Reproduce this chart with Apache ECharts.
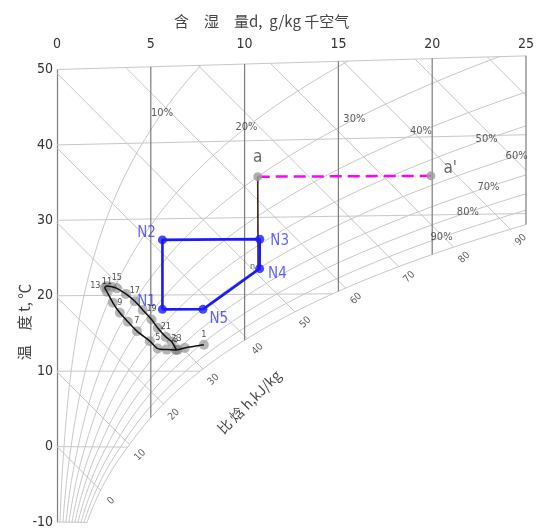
<!DOCTYPE html>
<html>
<head>
<meta charset="utf-8">
<script src="https://cdn.jsdelivr.net/npm/echarts@6/dist/echarts.min.js"></script>
<style>
html,body{margin:0;padding:0;background:#fff;}
#chart{width:537px;height:529px;}
</style>
</head>
<body>
<div id="chart"></div>
<script>
// Psychrometric h–d chart (barometric pressure 101.325 kPa)

// axis ticks
const dTicks = [0, 5, 10, 15, 20, 25];          // moisture content, g/kg dry air
const tTicks = [-10, 0, 10, 20, 30, 40, 50];    // dry-bulb temperature, °C

// relative-humidity curves and where their % labels sit (moisture content)
const rhLevels = [10, 20, 30, 40, 50, 60, 70, 80, 90, 100];
const rhLabelD = [5.6, 10.1, 15.85, 19.4, 22.9, 24.5, 23.0, 21.9, 20.5];

// specific enthalpy lines, kJ/kg
const hLevels = [0, 10, 20, 30, 40, 50, 60, 70, 80, 90, 100, 110];
const hLabelLevels = [0, 10, 20, 30, 40, 50, 60, 70, 80, 90];

// outdoor state a and humidified state a'
const outNames = ['a', "a'"];
const outD = [10.7, 19.93];
const outT = [35.3, 35.0];

// cooling line end n
const nD = 10.72;
const nT = 23.3;

// process states N1..N5
const procNames = ['N1', 'N2', 'N3', 'N4', 'N5'];
const procD = [5.62, 5.62, 10.81, 10.80, 7.78];
const procT = [18.12, 27.23, 27.17, 23.34, 18.09];

// hourly record, hours 1..24
const hourLabels = ['1','2','3','4','5','6','7','8','9','10','11','12','13','14','15','16','17','18','19','20','21','22','23','24'];
const hourD = [7.83, 6.81, 6.33, 5.85, 5.37, 4.95, 4.26, 3.78, 3.35, 2.98, 2.66, 2.55, 2.64, 2.93, 3.19, 3.67, 4.15, 4.57, 5.04, 5.37, 5.80, 6.12, 6.37, 6.44];
const hourT = [13.45, 13.05, 12.79, 12.83, 12.97, 13.95, 15.27, 16.50, 17.69, 19.02, 20.48, 21.01, 21.23, 21.13, 20.92, 20.18, 19.21, 18.06, 16.78, 15.68, 14.50, 13.85, 12.83, 12.80];

// ---- psychrometrics ----
const B = 101.325;      // kPa
const SKEW = 2.52;      // enthalpy axis skew (kJ/kg per g/kg)
const D_MAX = 25, T_MAX = 50, T_MIN = -10;

function pws(t) {
  return t >= 0 ? 0.61078 * Math.exp(17.27 * t / (t + 237.3))
                : 0.61078 * Math.exp(21.875 * t / (t + 265.5));
}
function dOf(t, phi) { const p = phi * pws(t); return 622 * p / (B - p); }
function hOf(d, t) { return 1.01 * t + d * (2.501 + 0.00184 * t); }
// vertical chart coordinate: equals t on the d = 0 axis
function yOf(d, t) { return t + d * (2.501 + 0.00184 * t - SKEW) / 1.01; }
function P(d, t) { return [d, yOf(d, t)]; }
function solve(f, lo, hi) {
  for (let i = 0; i < 60; i++) { const m = (lo + hi) / 2; if (f(m) > 0) hi = m; else lo = m; }
  return (lo + hi) / 2;
}

const LIGHT = '#c8c8c8';
const DARK = '#7c7c7c';
const NARROW = "'Liberation Sans Narrow','DejaVu Sans Condensed','Arial Narrow',sans-serif";
const CJK = "'Noto Sans CJK SC','Noto Sans CJK JP',sans-serif";

const series = [];
function addLine(data, color, width, extra) {
  series.push(Object.assign({
    type: 'line', data: data, symbol: 'none', showSymbol: false, clip: false,
    silent: true, animation: false, z: 1,
    lineStyle: { color: color, width: width }
  }, extra || {}));
}

// isotherms (bounded by saturation curve / right edge)
tTicks.forEach(function (t) {
  addLine([P(0, t), P(Math.min(dOf(t, 1), D_MAX), t)], LIGHT, 1);
});

// relative-humidity curves
rhLevels.forEach(function (rh) {
  const phi = rh / 100, pts = [];
  for (let t = T_MIN; t <= T_MAX + 1e-9; t += 0.5) {
    const d = dOf(t, phi);
    if (d > D_MAX) {
      const te = solve(function (x) { return dOf(x, phi) - D_MAX; }, t - 0.5, t);
      pts.push(P(D_MAX, te));
      break;
    }
    pts.push(P(d, t));
  }
  addLine(pts, LIGHT, 1);
});

// enthalpy lines
const hEnds = {};
hLevels.forEach(function (h) {
  let start;
  if (h / 1.01 <= T_MAX) start = P(0, h / 1.01);
  else start = P((h - 1.01 * T_MAX) / (2.501 + 0.00184 * T_MAX), T_MAX);
  const ts = solve(function (t) { return hOf(dOf(t, 1), t) - h; }, -30, 60);
  const ds = dOf(ts, 1);
  let end;
  if (ds <= D_MAX) end = P(ds, ts);
  else end = P(D_MAX, (h - D_MAX * 2.501) / (1.01 + D_MAX * 0.00184));
  hEnds[h] = end;
  addLine([start, end], LIGHT, 1);
});

// constant moisture-content lines (from dew point up to 50 °C)
dTicks.slice(1).forEach(function (d) {
  const td = solve(function (t) { return dOf(t, 1) - d; }, -40, 60);
  addLine([P(d, td), P(d, T_MAX)], DARK, 1.2);
});

// RH % labels
series.push({
  type: 'scatter', silent: true, animation: false, symbolSize: 0, z: 3,
  data: rhLabelD.map(function (d, i) {
    const phi = rhLevels[i] / 100;
    const t = solve(function (x) { return dOf(x, phi) - d; }, -20, 60);
    return { value: P(d, t), name: rhLevels[i] + '%' };
  }),
  label: { show: true, position: 'inside', formatter: '{b}', color: '#333',
           fontSize: 11, fontFamily: NARROW }
});

// enthalpy numbers beyond the saturation curve
series.push({
  type: 'scatter', silent: true, animation: false, symbolSize: 0, z: 3,
  data: hLabelLevels.map(function (h) { return { value: hEnds[h], name: String(h) }; }),
  label: { show: true, position: 'inside', offset: [0, 15], rotate: 45,
           formatter: '{b}', color: '#333', fontSize: 10, fontFamily: NARROW }
});

// a -> a' humidification (dashed magenta)
addLine([P(outD[0], outT[0]), P(outD[1], outT[1])], '#ff00ff', 2.5,
  { z: 6, lineStyle: { color: '#ff00ff', width: 2.5, type: [12, 6] } });

// a -> n cooling line
addLine([P(outD[0], outT[0]), P(nD, nT)], '#43201c', 1.6, { z: 5 });
series.push({
  type: 'scatter', silent: true, animation: false, symbolSize: 0, z: 7,
  data: [{ value: P(nD, nT), name: 'n' }],
  label: { show: true, position: 'left', distance: 3, formatter: '{b}', color: '#333',
           fontSize: 9, fontFamily: NARROW, offset: [0, -2] }
});

// a and a' points
series.push({
  type: 'scatter', silent: true, animation: false, symbolSize: 9, z: 8,
  itemStyle: { color: '#9c9c9c' },
  data: outNames.map(function (n, i) {
    return {
      value: P(outD[i], outT[i]), name: n,
      label: i === 0 ? { position: 'top', distance: 6 } : { position: 'right', distance: 8, offset: [0, -7] }
    };
  }),
  label: { show: true, formatter: '{b}', color: '#444', fontSize: 17, fontFamily: NARROW }
});

// process loop N1 -> N2 -> N3 -> N4 -> N5 -> N1
const loopIdx = [0, 1, 2, 3, 4, 0];
addLine(loopIdx.map(function (i) { return P(procD[i], procT[i]); }), '#1a1aff', 2.6, { z: 9 });
const procLabelPos = [
  { position: 'left', distance: 2, offset: [0, -7] },
  { position: 'left', distance: 2, offset: [0, -7] },
  { position: 'right', distance: 6, offset: [0, 2] },
  { position: 'right', distance: 4, offset: [0, 5] },
  { position: 'right', distance: 2, offset: [0, 10] }
];
series.push({
  type: 'scatter', silent: true, animation: false, symbolSize: 9, z: 10,
  itemStyle: { color: '#1a1aff' },
  data: procNames.map(function (n, i) {
    return { value: P(procD[i], procT[i]), name: n, label: procLabelPos[i] };
  }),
  label: { show: true, formatter: '{b}', color: '#3b3bff', fontSize: 15, fontFamily: NARROW }
});

// hourly record
series.push({
  type: 'scatter', silent: true, animation: false, symbolSize: 10, z: 11,
  itemStyle: { color: 'rgba(135,135,135,0.75)' },
  data: hourLabels.map(function (n, i) {
    const odd = (i % 2) === 0;
    return {
      value: P(hourD[i], hourT[i]), name: n,
      label: { show: odd, position: n === '13' ? 'left' : 'top', distance: 1 }
    };
  }),
  label: { formatter: '{b}', color: '#222', fontSize: 9, fontFamily: NARROW }
});
addLine(hourD.map(function (d, i) { return P(d, hourT[i]); }), '#111', 1.5, { z: 12, smooth: 0.25 });

const chart = echarts.init(document.getElementById('chart'), null, { renderer: 'canvas' });
chart.setOption({
  animation: false,
  backgroundColor: '#fff',
  title: {
    text: '含\u3000湿\u3000量d,  g/kg 千空气',
    left: 169, top: 9,
    textStyle: { fontSize: 15, fontWeight: 'normal', color: '#444', fontFamily: CJK }
  },
  grid: { left: 57, right: 10, top: 69.5, bottom: 7 },
  xAxis: {
    type: 'value', position: 'top', min: 0, max: 25, interval: 5,
    axisLine: { show: false }, axisTick: { show: false }, splitLine: { show: false },
    axisLabel: { margin: 18, fontSize: 14, color: '#333', fontFamily: NARROW }
  },
  yAxis: {
    type: 'value', min: -10, max: 50, interval: 10,
    axisLine: { show: true, lineStyle: { color: DARK, width: 1.2 } },
    axisTick: { show: false }, splitLine: { show: false },
    axisLabel: { margin: 4, fontSize: 14, color: '#333', fontFamily: NARROW }
  },
  graphic: [
    {
      type: 'text', x: 24, y: 322, rotation: Math.PI / 2,
      style: { text: '温\u3000度 t, ℃', fontSize: 15, fill: '#444', fontFamily: CJK,
               align: 'center', verticalAlign: 'middle' }
    },
    {
      type: 'text', x: 249, y: 402, rotation: Math.PI / 4,
      style: { text: '比 焓 h,kJ/kg', fontSize: 14, fill: '#444', fontFamily: CJK,
               align: 'center', verticalAlign: 'middle' }
    }
  ],
  series: series
});
</script>
</body>
</html>
